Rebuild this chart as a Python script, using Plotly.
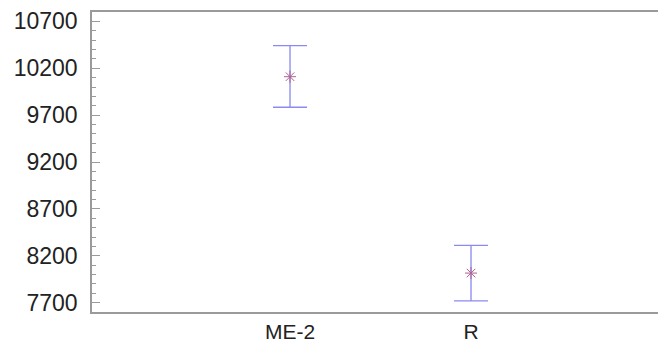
import plotly.graph_objects as go

categories = ["ME-2", "R"]
cat_pos = [1, 2]
means = [10110, 8015]
err_plus = [331, 296]
err_minus = [326, 297]
y_ticks = [7700, 8200, 8700, 9200, 9700, 10200, 10700]
y_tick_labels = ["7700", "8200", "8700", "9200", "9700", "10200", "10700"]

fig = go.Figure()
fig.add_trace(go.Scatter(
    x=cat_pos, y=means, mode="markers",
    marker=dict(symbol="asterisk-open", size=10, color="#b0608f", line=dict(width=1, color="#b0608f")),
    error_y=dict(type="data", symmetric=False, array=err_plus, arrayminus=err_minus,
                 color="#8a8af0", thickness=1.3, width=17),
    showlegend=False,
))

fig.update_layout(
    width=658, height=342,
    margin=dict(l=92, r=0, t=12, b=30),
    paper_bgcolor="white", plot_bgcolor="white",
    font=dict(family="Liberation Sans, Arial, sans-serif", color="#222222", size=23),
)
fig.update_xaxes(
    range=[-0.094, 3.033], tickvals=cat_pos, ticktext=categories,
    showgrid=False, zeroline=False, showline=True, mirror=True,
    linecolor="#9a9a9a", linewidth=1.5, ticks="", tickfont=dict(size=21),
    ticklabelstandoff=0, automargin=False,
)
fig.update_yaxes(
    range=[7600, 10800], tickvals=y_ticks, ticktext=y_tick_labels,
    showgrid=False, zeroline=False, showline=True, mirror=False,
    linecolor="#9a9a9a", linewidth=1.5,
    ticks="inside", ticklen=8, tickcolor="#9a9a9a", tickwidth=1,
    minor=dict(dtick=100, ticks="inside", ticklen=4, tickcolor="#9a9a9a", tickwidth=1),
    ticklabelstandoff=8, tickfont=dict(size=23), automargin=False,
)

fig.write_html("out.html")
